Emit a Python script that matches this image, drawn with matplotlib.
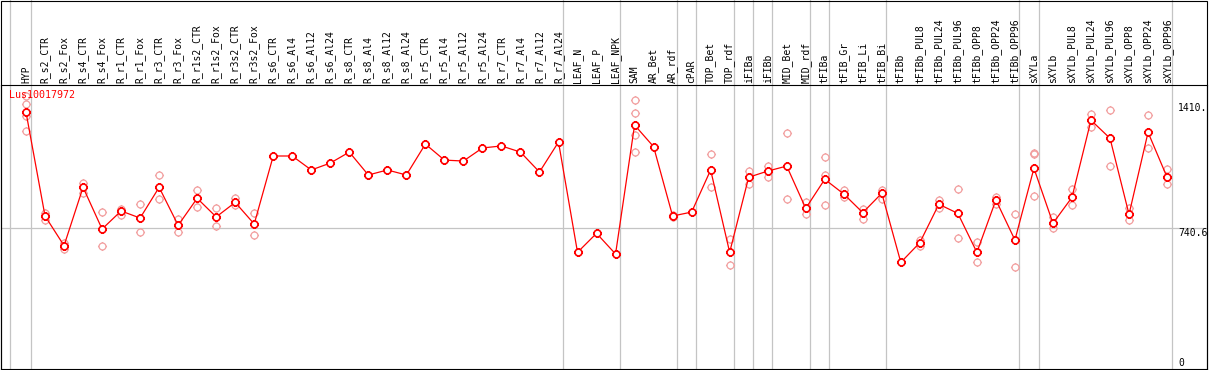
import matplotlib
matplotlib.use("Agg")
import matplotlib.pyplot as plt
import numpy as np
from matplotlib.path import Path
from matplotlib.patches import Rectangle
from matplotlib.transforms import blended_transform_factory

GENE = "Lus10017972"
samples = [
    "HYP",
    "R_s2_CTR", "R_s2_Fox", "R_s4_CTR", "R_s4_Fox", "R_r1_CTR", "R_r1_Fox", "R_r3_CTR", "R_r3_Fox",
    "R_r1s2_CTR", "R_r1s2_Fox", "R_r3s2_CTR", "R_r3s2_Fox",
    "R_s6_CTR", "R_s6_Al4", "R_s6_Al12", "R_s6_Al24", "R_s8_CTR", "R_s8_Al4", "R_s8_Al12", "R_s8_Al24",
    "R_r5_CTR", "R_r5_Al4", "R_r5_Al12", "R_r5_Al24", "R_r7_CTR", "R_r7_Al4", "R_r7_Al12", "R_r7_Al24",
    "LEAF_N", "LEAF_P", "LEAF_NPK",
    "SAM", "AR_Bet", "AR_rdf",
    "cPAR",
    "TOP_Bet", "TOP_rdf",
    "iFIBa",
    "iFIBb",
    "MID_Bet", "MID_rdf",
    "tFIBa",
    "tFIB_Gr", "tFIB_Li", "tFIB_Bi",
    "tFIBb", "tFIBb_PUL8", "tFIBb_PUL24", "tFIBb_PUL96", "tFIBb_OPP8", "tFIBb_OPP24", "tFIBb_OPP96",
    "sXYLa",
    "sXYLb", "sXYLb_PUL8", "sXYLb_PUL24", "sXYLb_PUL96", "sXYLb_OPP8", "sXYLb_OPP24", "sXYLb_OPP96",
]
group_sizes = [1, 28, 3, 3, 1, 2, 1, 1, 2, 1, 3, 7, 1, 7]

means = [
    1362,
    805, 646, 959, 735, 832, 794, 959, 755, 900, 800, 878, 762,
    1127, 1127, 1052, 1089, 1148, 1025, 1052, 1025,
    1191, 1105, 1100, 1170, 1181, 1148, 1041, 1202,
    610, 712, 601,
    1293, 1177, 805,
    826,
    1052, 610,
    1013,
    1046,
    1073, 846,
    1002,
    923, 823, 927,
    556, 662, 868, 819, 610, 891, 676,
    1061,
    766, 905, 1319, 1222, 814, 1254, 1013,
]
reps = [
    [1449, 1404, 1342, 1261],
    [819, 783], [658, 626], [984, 930], [826, 644], [843, 810], [868, 717], [1023, 895], [790, 717],
    [945, 852], [848, 750], [900, 864], [819, 703],
    [], [], [], [], [], [], [], [],
    [], [], [], [], [], [], [], [],
    [], [], [],
    [1427, 1356, 1240, 1150], [], [812, 798],
    [],
    [1138, 962], [682, 542],
    [1046, 977],
    [1073, 1013],
    [1249, 896], [882, 816],
    [1120, 1023, 862],
    [945, 909], [841, 790], [945, 898],
    [], [676, 646], [891, 846], [948, 685], [664, 556], [909, 868], [814, 530],
    [1141, 1136, 911],
    [798, 739], [950, 862], [1352, 1284], [1374, 1072], [846, 783], [1347, 1168], [1057, 975],
]
ref_value = 740.6
top_value = 1410.0


def ring_marker(tick=1.3):
    circ = Path.unit_circle()
    ticks = Path([(1, 0), (tick, 0), (-1, 0), (-tick, 0), (0, 1), (0, tick), (0, -1), (0, -tick)],
                 [Path.MOVETO, Path.LINETO] * 4)
    return Path.make_compound_path(circ, ticks)


W, H = 1209, 370
fig = plt.figure(figsize=(W / 100, H / 100), dpi=100)
ax = fig.add_axes([1 / W, 1.5 / H, 1206 / W, 283.5 / H])
ax.set_xlim(-1.315, 62.10)
ax.set_ylim(-13.4, 1508)
ax.set_xticks([]); ax.set_yticks([])
for sp in ax.spines.values():
    sp.set_linewidth(0.8); sp.set_color("black")

fig.patches.append(Rectangle((0.5 / W, 0.5 / H), 1206 / W, 369 / H, transform=fig.transFigure,
                             fill=False, ec="black", lw=0.8))

gray = "#c4c4c4"
ext = 1 + 85 / 283.5
bounds = [-0.84] + [b - 1 + 0.24 for b in np.cumsum(group_sizes)]
for b in bounds:
    ax.axvline(b, 0, ext, color=gray, lw=0.9, clip_on=False, zorder=0)
ax.axhline(ref_value, color=gray, lw=0.9, zorder=0)

x = np.arange(len(samples))
mk = ring_marker()
rx = [i for i, r in enumerate(reps) for _ in r]
ry = [v for r in reps for v in r]
ax.plot(rx, ry, ls="none", marker=mk, ms=6.5, mfc="none", mec="#f2a0a0", mew=0.9, zorder=2)
ax.plot(x, means, color="red", lw=0.9, zorder=3)
ax.plot(x, means, ls="none", marker=mk, ms=6.5, mfc="white", mec="red", mew=1.2, zorder=4)

trans = blended_transform_factory(ax.transData, ax.transAxes)
mono = "DejaVu Sans Mono"
for i, s in enumerate(samples):
    ax.text(i, 1 + 2 / 283.5, s, rotation=90, ha="center", va="bottom", transform=trans,
            fontsize=7, family=mono, clip_on=False)

ax.text(8 / 1206, 1 - 5 / 283.5, GENE, color="red", ha="left", va="top", transform=ax.transAxes,
        fontsize=7.2, family=mono)

rtrans = blended_transform_factory(ax.transAxes, ax.transData)
lx = 1177 / 1206
ax.text(lx, top_value, f"{top_value:.0f}.", ha="left", va="top", transform=rtrans, fontsize=7, family=mono)
ax.text(lx, ref_value, f"{ref_value:.1f}", ha="left", va="top", transform=rtrans, fontsize=7, family=mono)
ax.text(lx, 0, "0", ha="left", va="baseline", transform=rtrans, fontsize=7, family=mono)

fig.savefig("out.png", dpi=100)
